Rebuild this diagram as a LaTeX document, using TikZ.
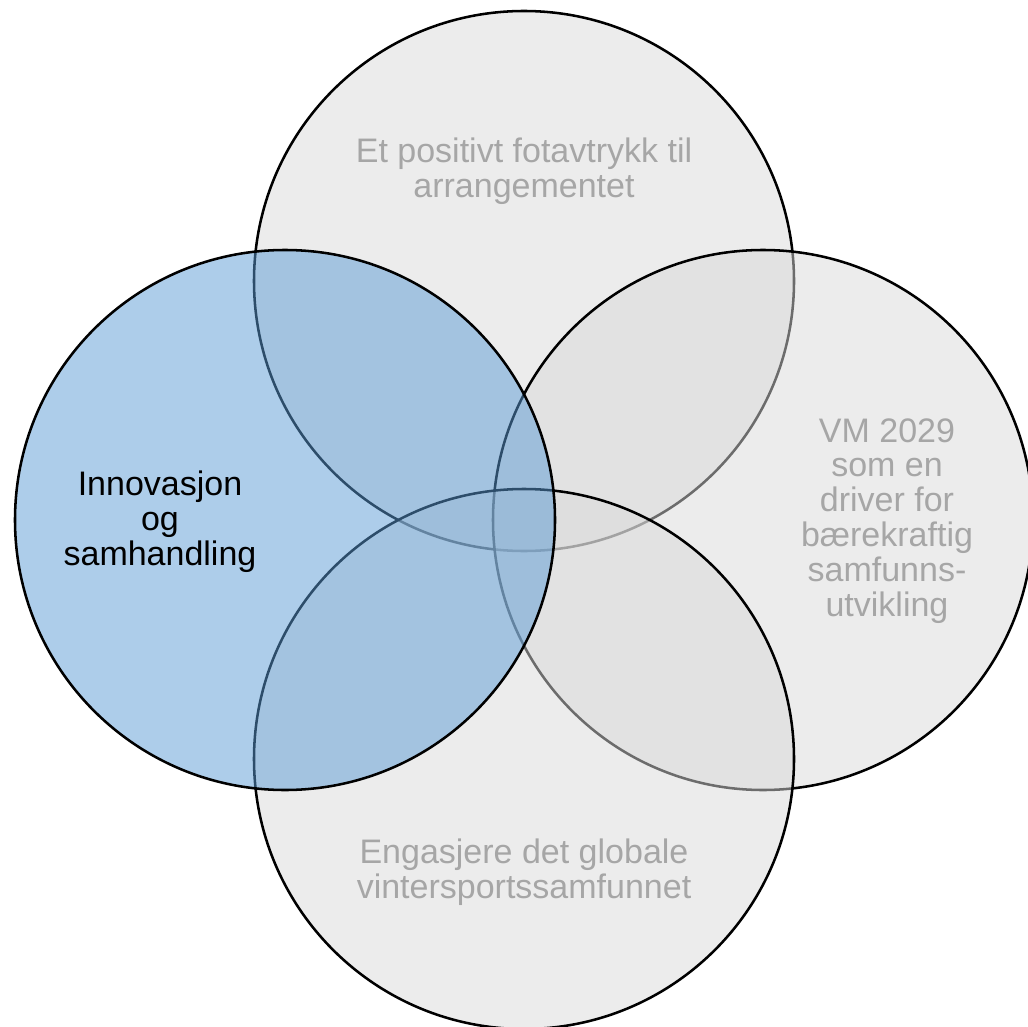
\documentclass[tikz,border=0pt]{standalone}
\usepackage{fontspec}
\setmainfont{Liberation Sans}
\definecolor{ringgray}{HTML}{D9D9D9}
\definecolor{ringblue}{HTML}{5B9BD5}
\definecolor{labelgray}{HTML}{A6A6A6}
\begin{document}
\begin{tikzpicture}[x=0.75pt,y=-0.75pt,
  ring/.style={draw=black,line width=1.9pt,fill opacity=0.5},
  lbl/.style={align=center,font=\fontsize{25.5}{26.2}\selectfont,inner sep=0pt}]
\useasboundingbox (0,0) rectangle (1028,1027);
\clip (0,0) rectangle (1028,1027);
\path[ring,fill=ringgray] (524,281) circle[radius=270];
\path[ring,fill=ringgray] (763,520) circle[radius=270];
\path[ring,fill=ringgray] (524,759) circle[radius=270];
\path[ring,fill=ringblue] (285,520) circle[radius=270];
\node[lbl,text=labelgray] (top) at (524,171) {Et positivt fotavtrykk til\\arrangementet};
\node[lbl,text=labelgray] (right) at (887,521) {VM 2029\\som en\\driver for\\bærekraftig\\samfunns-\\utvikling};
\node[lbl,text=labelgray] (bottom) at (524,872) {Engasjere det globale\\vintersportssamfunnet};
\node[lbl,text=black] (left) at (160,522) {Innovasjon\\og\\samhandling};
\end{tikzpicture}
\end{document}
